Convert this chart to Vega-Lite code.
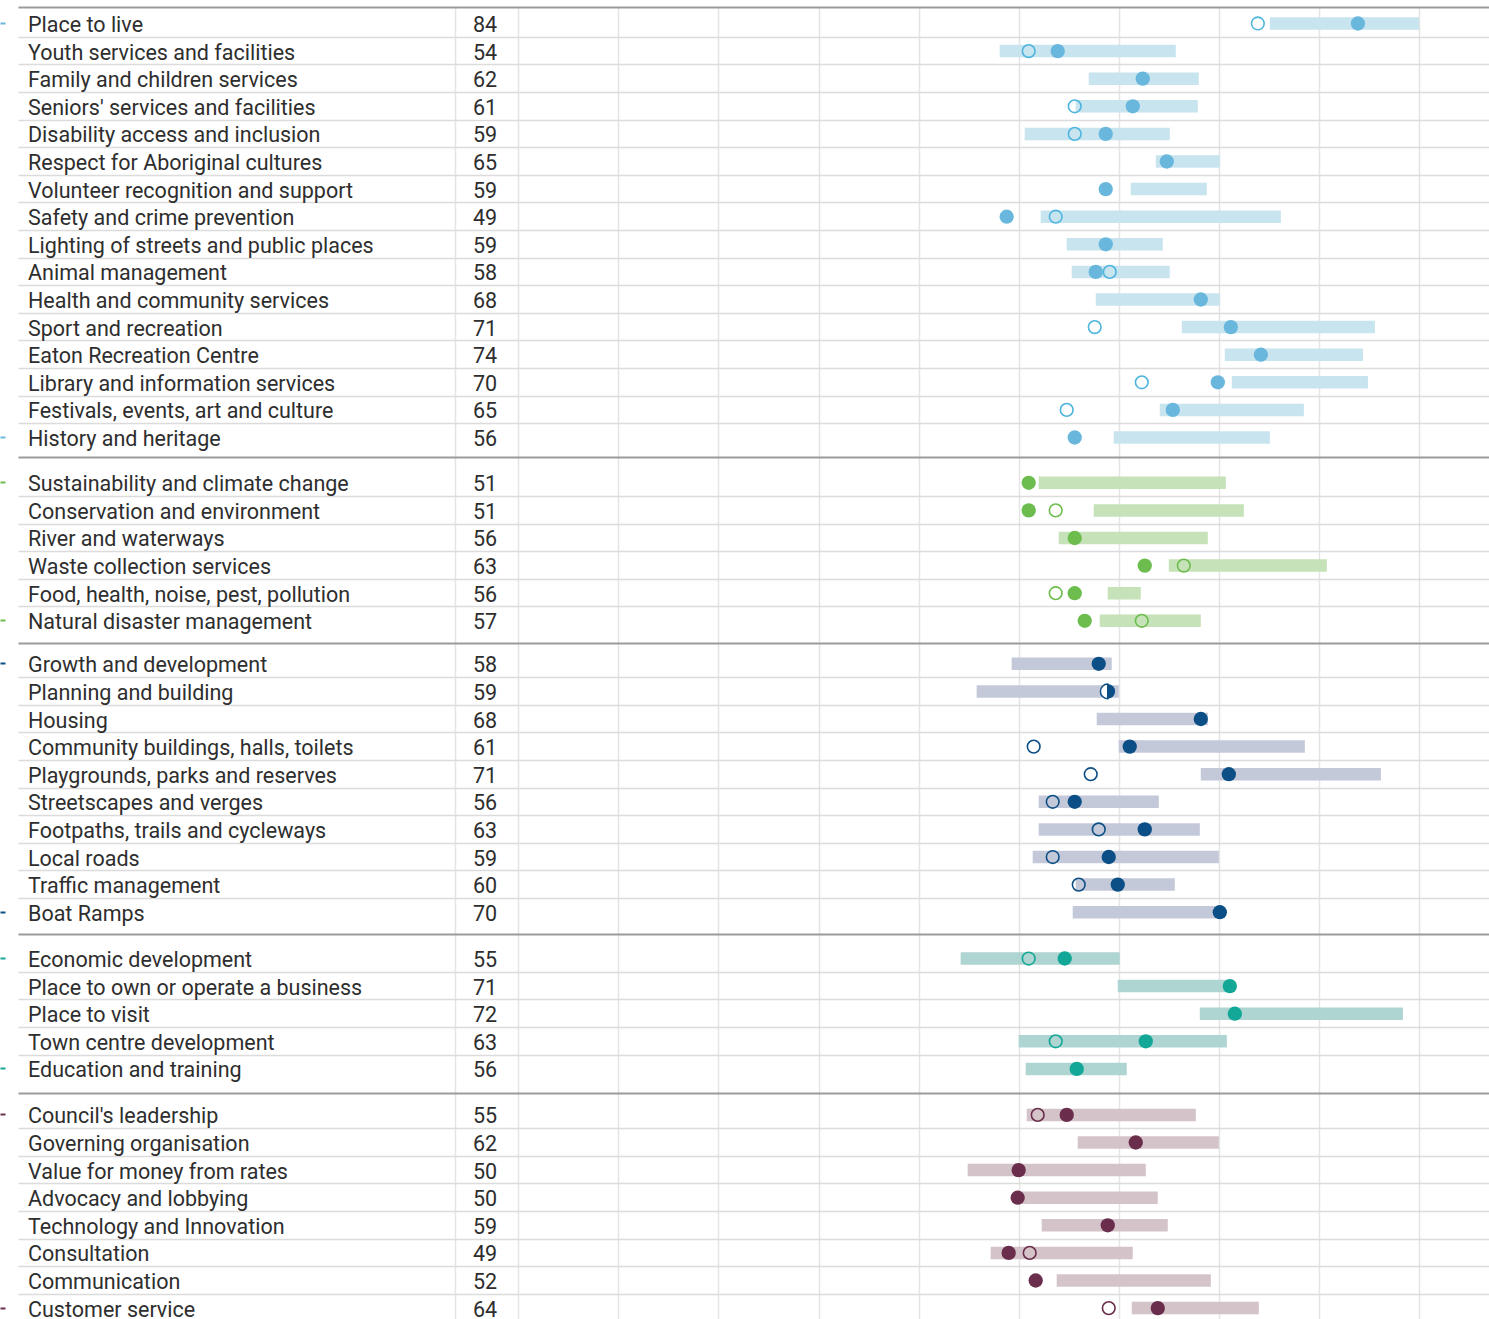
{
  "$schema": "https://vega.github.io/schema/vega-lite/v6.json",
  "padding": {"left": -1, "top": 7, "right": 0, "bottom": 0},
  "bounds": "flush",
  "spacing": 0,
  "background": "white",
  "config": {
    "font": "Roboto",
    "view": {"stroke": null},
    "axisX": {"domainColor": "#9b9b9b", "domainWidth": 2, "ticks": false, "labels": false, "grid": true, "gridColor": "#e4e4e4", "gridWidth": 1.5}
  },
  "datasets": {
    "rows": [
      {"group": "Community", "item": "Place to live", "score": 83.9, "prev": 73.9, "lo": 75.1, "hi": 90.0},
      {"group": "Community", "item": "Youth services and facilities", "score": 53.9, "prev": 51.0, "lo": 48.1, "hi": 65.7},
      {"group": "Community", "item": "Family and children services", "score": 62.4, "prev": null, "lo": 57.0, "hi": 68.0},
      {"group": "Community", "item": "Seniors' services and facilities", "score": 61.4, "prev": 55.6, "lo": 55.7, "hi": 67.9},
      {"group": "Community", "item": "Disability access and inclusion", "score": 58.7, "prev": 55.6, "lo": 50.6, "hi": 65.1},
      {"group": "Community", "item": "Respect for Aboriginal cultures", "score": 64.8, "prev": null, "lo": 63.7, "hi": 70.1},
      {"group": "Community", "item": "Volunteer recognition and support", "score": 58.7, "prev": null, "lo": 61.2, "hi": 68.8},
      {"group": "Community", "item": "Safety and crime prevention", "score": 48.8, "prev": 53.7, "lo": 52.2, "hi": 76.2},
      {"group": "Community", "item": "Lighting of streets and public places", "score": 58.7, "prev": null, "lo": 54.8, "hi": 64.4},
      {"group": "Community", "item": "Animal management", "score": 57.7, "prev": 59.1, "lo": 55.3, "hi": 65.1},
      {"group": "Community", "item": "Health and community services", "score": 68.2, "prev": null, "lo": 57.7, "hi": 70.1},
      {"group": "Community", "item": "Sport and recreation", "score": 71.2, "prev": 57.6, "lo": 66.3, "hi": 85.6},
      {"group": "Community", "item": "Eaton Recreation Centre", "score": 74.2, "prev": null, "lo": 70.6, "hi": 84.4},
      {"group": "Community", "item": "Library and information services", "score": 69.9, "prev": 62.3, "lo": 71.3, "hi": 84.9},
      {"group": "Community", "item": "Festivals, events, art and culture", "score": 65.4, "prev": 54.8, "lo": 64.1, "hi": 78.5},
      {"group": "Community", "item": "History and heritage", "score": 55.6, "prev": null, "lo": 59.5, "hi": 75.1},
      {"group": "Environment", "item": "Sustainability and climate change", "score": 51.0, "prev": null, "lo": 52.0, "hi": 70.7},
      {"group": "Environment", "item": "Conservation and environment", "score": 51.0, "prev": 53.7, "lo": 57.5, "hi": 72.5},
      {"group": "Environment", "item": "River and waterways", "score": 55.6, "prev": null, "lo": 54.0, "hi": 68.9},
      {"group": "Environment", "item": "Waste collection services", "score": 62.6, "prev": 66.5, "lo": 65.0, "hi": 80.8},
      {"group": "Environment", "item": "Food, health, noise, pest, pollution", "score": 55.6, "prev": 53.7, "lo": 58.9, "hi": 62.2},
      {"group": "Environment", "item": "Natural disaster management", "score": 56.6, "prev": 62.3, "lo": 58.1, "hi": 68.2},
      {"group": "Infrastructure", "item": "Growth and development", "score": 58.0, "prev": null, "lo": 49.3, "hi": 59.3},
      {"group": "Infrastructure", "item": "Planning and building", "score": 58.9, "prev": 58.9, "lo": 45.8, "hi": 60.0},
      {"group": "Infrastructure", "item": "Housing", "score": 68.2, "prev": null, "lo": 57.8, "hi": 68.9},
      {"group": "Infrastructure", "item": "Community buildings, halls, toilets", "score": 61.1, "prev": 51.5, "lo": 60.0, "hi": 78.6},
      {"group": "Infrastructure", "item": "Playgrounds, parks and reserves", "score": 71.0, "prev": 57.2, "lo": 68.2, "hi": 86.2},
      {"group": "Infrastructure", "item": "Streetscapes and verges", "score": 55.6, "prev": 53.4, "lo": 52.0, "hi": 64.0},
      {"group": "Infrastructure", "item": "Footpaths, trails and cycleways", "score": 62.6, "prev": 58.0, "lo": 52.0, "hi": 68.1},
      {"group": "Infrastructure", "item": "Local roads", "score": 59.0, "prev": 53.4, "lo": 51.4, "hi": 70.0},
      {"group": "Infrastructure", "item": "Traffic management", "score": 59.9, "prev": 56.0, "lo": 55.7, "hi": 65.6},
      {"group": "Infrastructure", "item": "Boat Ramps", "score": 70.1, "prev": null, "lo": 55.4, "hi": 70.0},
      {"group": "Economy", "item": "Economic development", "score": 54.6, "prev": 51.0, "lo": 44.2, "hi": 60.1},
      {"group": "Economy", "item": "Place to own or operate a business", "score": 71.1, "prev": null, "lo": 59.9, "hi": 70.8},
      {"group": "Economy", "item": "Place to visit", "score": 71.6, "prev": null, "lo": 68.1, "hi": 88.4},
      {"group": "Economy", "item": "Town centre development", "score": 62.7, "prev": 53.7, "lo": 50.0, "hi": 70.8},
      {"group": "Economy", "item": "Education and training", "score": 55.8, "prev": null, "lo": 50.7, "hi": 60.8},
      {"group": "Leadership", "item": "Council's leadership", "score": 54.8, "prev": 51.9, "lo": 50.8, "hi": 67.7},
      {"group": "Leadership", "item": "Governing organisation", "score": 61.7, "prev": null, "lo": 55.9, "hi": 70.0},
      {"group": "Leadership", "item": "Value for money from rates", "score": 50.0, "prev": null, "lo": 44.9, "hi": 62.7},
      {"group": "Leadership", "item": "Advocacy and lobbying", "score": 49.9, "prev": null, "lo": 50.0, "hi": 63.9},
      {"group": "Leadership", "item": "Technology and Innovation", "score": 58.9, "prev": null, "lo": 52.3, "hi": 64.9},
      {"group": "Leadership", "item": "Consultation", "score": 49.0, "prev": 51.1, "lo": 47.2, "hi": 61.4},
      {"group": "Leadership", "item": "Communication", "score": 51.7, "prev": null, "lo": 53.8, "hi": 69.2},
      {"group": "Leadership", "item": "Customer service", "score": 63.9, "prev": 59.0, "lo": 61.3, "hi": 74.0}
    ]
  },
  "vconcat": [
    {
      "data": {"name": "rows"},
      "transform": [{"filter": "datum.group == 'Community'"}],
      "width": 1471, "height": 450,
      "resolve": {"axis": {"y": "independent"}},
      "encoding": {
        "y": {"field": "item", "type": "nominal", "sort": null, "title": null, "axis": null,
          "scale": {"paddingInner": 0, "paddingOuter": 0.152, "align": 0.32}}
      },
      "layer": [
        {"mark": {"type": "bar", "height": 12.5, "color": "#c8e4ef"},
         "encoding": {
           "y": {"field": "item", "type": "nominal", "sort": null, "title": null,
             "scale": {"paddingInner": 0, "paddingOuter": 0.152, "align": 0.32},
             "axis": {"domain": false, "ticks": false, "grid": true, "bandPosition": 1, "gridWidth": 1.5,
               "gridColor": {"condition": {"test": "datum.index == 1", "value": "transparent"}, "value": "#dcdcdc"},
               "labelAlign": "left", "labelPadding": -9.5, "labelOffset": 2.5, "labelFontSize": 21.5, "labelColor": "#2e2e2e", "labelLimit": 0, "labelOverlap": false, "labelFont": "Roboto"}},
           "x": {"field": "lo", "type": "quantitative", "title": null, "scale": {"domain": [-50, 97], "nice": false, "zero": false}, "axis": {"orient": "top", "values": [-6.3, 0, 10, 20, 30, 40, 50, 60, 70, 80, 90]}}, "x2": {"field": "hi"}}},
        {"mark": {"type": "point", "shape": "circle", "filled": true, "size": 205, "color": "#69b7dd", "opacity": 1},
         "encoding": {"x": {"field": "score", "type": "quantitative", "title": null, "scale": {"domain": [-50, 97], "nice": false, "zero": false}}}},
        {"mark": {"type": "point", "shape": "circle", "filled": false, "size": 160, "color": "#4db5de", "strokeWidth": 1.6, "opacity": 1},
         "encoding": {"x": {"field": "prev", "type": "quantitative", "title": null, "scale": {"domain": [-50, 97], "nice": false, "zero": false}}}},
        {"mark": {"type": "text", "x": 467, "dy": 2.5, "align": "center", "baseline": "middle", "fontSize": 21.5, "color": "#2e2e2e"},
         "encoding": {
           "y": {"field": "item", "type": "nominal", "sort": null, "title": null,
             "scale": {"paddingInner": 0, "paddingOuter": 0.152, "align": 0.32},
             "axis": {"orient": "left", "offset": 13, "domain": false, "labels": false, "grid": false, "ticks": true, "tickSize": 5, "tickWidth": 2, "tickColor": "#69b7dd",
               "tickOpacity": {"condition": {"test": "datum.index == 0 || datum.index == 1", "value": 1}, "value": 0}}},
           "text": {"field": "score", "type": "quantitative", "format": ".0f"}}}
      ]
    },
    {
      "data": {"name": "rows"},
      "transform": [{"filter": "datum.group == 'Environment'"}],
      "width": 1471, "height": 186,
      "resolve": {"axis": {"y": "independent"}},
      "encoding": {
        "y": {"field": "item", "type": "nominal", "sort": null, "title": null, "axis": null,
          "scale": {"paddingInner": 0, "paddingOuter": 0.3696, "align": 0.588}}
      },
      "layer": [
        {"mark": {"type": "bar", "height": 12.5, "color": "#c6e2b8"},
         "encoding": {
           "y": {"field": "item", "type": "nominal", "sort": null, "title": null,
             "scale": {"paddingInner": 0, "paddingOuter": 0.3696, "align": 0.588},
             "axis": {"domain": false, "ticks": false, "grid": true, "bandPosition": 1, "gridWidth": 1.5,
               "gridColor": {"condition": {"test": "datum.index == 1", "value": "transparent"}, "value": "#dcdcdc"},
               "labelAlign": "left", "labelPadding": -9.5, "labelOffset": 2.5, "labelFontSize": 21.5, "labelColor": "#2e2e2e", "labelLimit": 0, "labelOverlap": false, "labelFont": "Roboto"}},
           "x": {"field": "lo", "type": "quantitative", "title": null, "scale": {"domain": [-50, 97], "nice": false, "zero": false}, "axis": {"orient": "top", "values": [-6.3, 0, 10, 20, 30, 40, 50, 60, 70, 80, 90]}}, "x2": {"field": "hi"}}},
        {"mark": {"type": "point", "shape": "circle", "filled": true, "size": 205, "color": "#6cbd4e", "opacity": 1},
         "encoding": {"x": {"field": "score", "type": "quantitative", "title": null, "scale": {"domain": [-50, 97], "nice": false, "zero": false}}}},
        {"mark": {"type": "point", "shape": "circle", "filled": false, "size": 160, "color": "#6cbd4e", "strokeWidth": 1.6, "opacity": 1},
         "encoding": {"x": {"field": "prev", "type": "quantitative", "title": null, "scale": {"domain": [-50, 97], "nice": false, "zero": false}}}},
        {"mark": {"type": "text", "x": 467, "dy": 2.5, "align": "center", "baseline": "middle", "fontSize": 21.5, "color": "#2e2e2e"},
         "encoding": {
           "y": {"field": "item", "type": "nominal", "sort": null, "title": null,
             "scale": {"paddingInner": 0, "paddingOuter": 0.3696, "align": 0.588},
             "axis": {"orient": "left", "offset": 13, "domain": false, "labels": false, "grid": false, "ticks": true, "tickSize": 5, "tickWidth": 2, "tickColor": "#6cbd4e",
               "tickOpacity": {"condition": {"test": "datum.index == 0 || datum.index == 1", "value": 1}, "value": 0}}},
           "text": {"field": "score", "type": "quantitative", "format": ".0f"}}}
      ]
    },
    {
      "data": {"name": "rows"},
      "transform": [{"filter": "datum.group == 'Infrastructure'"}],
      "width": 1471, "height": 291,
      "resolve": {"axis": {"y": "independent"}},
      "encoding": {
        "y": {"field": "item", "type": "nominal", "sort": null, "title": null, "axis": null,
          "scale": {"paddingInner": 0, "paddingOuter": 0.2717, "align": 0.467}}
      },
      "layer": [
        {"mark": {"type": "bar", "height": 12.5, "color": "#c4c9da"},
         "encoding": {
           "y": {"field": "item", "type": "nominal", "sort": null, "title": null,
             "scale": {"paddingInner": 0, "paddingOuter": 0.2717, "align": 0.467},
             "axis": {"domain": false, "ticks": false, "grid": true, "bandPosition": 1, "gridWidth": 1.5,
               "gridColor": {"condition": {"test": "datum.index == 1", "value": "transparent"}, "value": "#dcdcdc"},
               "labelAlign": "left", "labelPadding": -9.5, "labelOffset": 2.5, "labelFontSize": 21.5, "labelColor": "#2e2e2e", "labelLimit": 0, "labelOverlap": false, "labelFont": "Roboto"}},
           "x": {"field": "lo", "type": "quantitative", "title": null, "scale": {"domain": [-50, 97], "nice": false, "zero": false}, "axis": {"orient": "top", "values": [-6.3, 0, 10, 20, 30, 40, 50, 60, 70, 80, 90]}}, "x2": {"field": "hi"}}},
        {"mark": {"type": "point", "shape": "circle", "filled": true, "size": 205, "color": "#0c4f86", "opacity": 1},
         "encoding": {"x": {"field": "score", "type": "quantitative", "title": null, "scale": {"domain": [-50, 97], "nice": false, "zero": false}}}},
        {"mark": {"type": "point", "shape": "circle", "filled": false, "size": 160, "color": "#0c4f86", "strokeWidth": 1.6, "opacity": 1},
         "encoding": {"x": {"field": "prev", "type": "quantitative", "title": null, "scale": {"domain": [-50, 97], "nice": false, "zero": false}}}},
        {"transform": [{"filter": "datum.prev != null && datum.prev == datum.score"}],
         "mark": {"type": "point", "shape": "M0,-1A1,1,0,0,0,0,1Z", "filled": true, "fill": "white", "stroke": "#0c4f86", "strokeWidth": 1.5, "size": 215, "opacity": 1},
         "encoding": {"x": {"field": "score", "type": "quantitative", "title": null, "scale": {"domain": [-50, 97], "nice": false, "zero": false}}}},
        {"mark": {"type": "text", "x": 467, "dy": 2.5, "align": "center", "baseline": "middle", "fontSize": 21.5, "color": "#2e2e2e"},
         "encoding": {
           "y": {"field": "item", "type": "nominal", "sort": null, "title": null,
             "scale": {"paddingInner": 0, "paddingOuter": 0.2717, "align": 0.467},
             "axis": {"orient": "left", "offset": 13, "domain": false, "labels": false, "grid": false, "ticks": true, "tickSize": 5, "tickWidth": 2, "tickColor": "#0c4f86",
               "tickOpacity": {"condition": {"test": "datum.index == 0 || datum.index == 1", "value": 1}, "value": 0}}},
           "text": {"field": "score", "type": "quantitative", "format": ".0f"}}}
      ]
    },
    {
      "data": {"name": "rows"},
      "transform": [{"filter": "datum.group == 'Economy'"}],
      "width": 1471, "height": 159,
      "resolve": {"axis": {"y": "independent"}},
      "encoding": {
        "y": {"field": "item", "type": "nominal", "sort": null, "title": null, "axis": null,
          "scale": {"paddingInner": 0, "paddingOuter": 0.3804, "align": 0.51}}
      },
      "layer": [
        {"mark": {"type": "bar", "height": 12.5, "color": "#aed5d1"},
         "encoding": {
           "y": {"field": "item", "type": "nominal", "sort": null, "title": null,
             "scale": {"paddingInner": 0, "paddingOuter": 0.3804, "align": 0.51},
             "axis": {"domain": false, "ticks": false, "grid": true, "bandPosition": 1, "gridWidth": 1.5,
               "gridColor": {"condition": {"test": "datum.index == 1", "value": "transparent"}, "value": "#dcdcdc"},
               "labelAlign": "left", "labelPadding": -9.5, "labelOffset": 2.5, "labelFontSize": 21.5, "labelColor": "#2e2e2e", "labelLimit": 0, "labelOverlap": false, "labelFont": "Roboto"}},
           "x": {"field": "lo", "type": "quantitative", "title": null, "scale": {"domain": [-50, 97], "nice": false, "zero": false}, "axis": {"orient": "top", "values": [-6.3, 0, 10, 20, 30, 40, 50, 60, 70, 80, 90]}}, "x2": {"field": "hi"}}},
        {"mark": {"type": "point", "shape": "circle", "filled": true, "size": 205, "color": "#13a797", "opacity": 1},
         "encoding": {"x": {"field": "score", "type": "quantitative", "title": null, "scale": {"domain": [-50, 97], "nice": false, "zero": false}}}},
        {"mark": {"type": "point", "shape": "circle", "filled": false, "size": 160, "color": "#13a797", "strokeWidth": 1.6, "opacity": 1},
         "encoding": {"x": {"field": "prev", "type": "quantitative", "title": null, "scale": {"domain": [-50, 97], "nice": false, "zero": false}}}},
        {"mark": {"type": "text", "x": 467, "dy": 2.5, "align": "center", "baseline": "middle", "fontSize": 21.5, "color": "#2e2e2e"},
         "encoding": {
           "y": {"field": "item", "type": "nominal", "sort": null, "title": null,
             "scale": {"paddingInner": 0, "paddingOuter": 0.3804, "align": 0.51},
             "axis": {"orient": "left", "offset": 13, "domain": false, "labels": false, "grid": false, "ticks": true, "tickSize": 5, "tickWidth": 2, "tickColor": "#13a797",
               "tickOpacity": {"condition": {"test": "datum.index == 0 || datum.index == 1", "value": 1}, "value": 0}}},
           "text": {"field": "score", "type": "quantitative", "format": ".0f"}}}
      ]
    },
    {
      "data": {"name": "rows"},
      "transform": [{"filter": "datum.group == 'Leadership'"}],
      "width": 1471, "height": 237,
      "resolve": {"axis": {"y": "independent"}},
      "encoding": {
        "y": {"field": "item", "type": "nominal", "sort": null, "title": null, "axis": null,
          "scale": {"paddingInner": 0, "paddingOuter": 0.2935, "align": 0.5}}
      },
      "layer": [
        {"mark": {"type": "bar", "height": 12.5, "color": "#d4c4c9"},
         "encoding": {
           "y": {"field": "item", "type": "nominal", "sort": null, "title": null,
             "scale": {"paddingInner": 0, "paddingOuter": 0.2935, "align": 0.5},
             "axis": {"domain": false, "ticks": false, "grid": true, "bandPosition": 1, "gridWidth": 1.5,
               "gridColor": {"condition": {"test": "datum.index == 1", "value": "transparent"}, "value": "#dcdcdc"},
               "labelAlign": "left", "labelPadding": -9.5, "labelOffset": 2.5, "labelFontSize": 21.5, "labelColor": "#2e2e2e", "labelLimit": 0, "labelOverlap": false, "labelFont": "Roboto"}},
           "x": {"field": "lo", "type": "quantitative", "title": null, "scale": {"domain": [-50, 97], "nice": false, "zero": false}, "axis": {"orient": "top", "values": [-6.3, 0, 10, 20, 30, 40, 50, 60, 70, 80, 90]}}, "x2": {"field": "hi"}}},
        {"mark": {"type": "point", "shape": "circle", "filled": true, "size": 205, "color": "#6a2e4c", "opacity": 1},
         "encoding": {"x": {"field": "score", "type": "quantitative", "title": null, "scale": {"domain": [-50, 97], "nice": false, "zero": false}}}},
        {"mark": {"type": "point", "shape": "circle", "filled": false, "size": 160, "color": "#6a2e4c", "strokeWidth": 1.6, "opacity": 1},
         "encoding": {"x": {"field": "prev", "type": "quantitative", "title": null, "scale": {"domain": [-50, 97], "nice": false, "zero": false}}}},
        {"mark": {"type": "text", "x": 467, "dy": 2.5, "align": "center", "baseline": "middle", "fontSize": 21.5, "color": "#2e2e2e"},
         "encoding": {
           "y": {"field": "item", "type": "nominal", "sort": null, "title": null,
             "scale": {"paddingInner": 0, "paddingOuter": 0.2935, "align": 0.5},
             "axis": {"orient": "left", "offset": 13, "domain": false, "labels": false, "grid": false, "ticks": true, "tickSize": 5, "tickWidth": 2, "tickColor": "#6a2e4c",
               "tickOpacity": {"condition": {"test": "datum.index == 0 || datum.index == 1", "value": 1}, "value": 0}}},
           "text": {"field": "score", "type": "quantitative", "format": ".0f"}}}
      ]
    }
  ]
}
